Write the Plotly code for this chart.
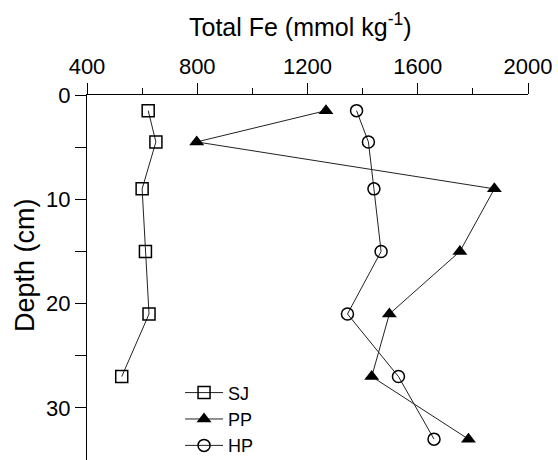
import plotly.graph_objects as go

# Total Fe profiles with depth at three sites
sj_depth = [1.5, 4.5, 9, 15, 21, 27]
sj_fe = [622, 650, 600, 612, 625, 526]

pp_depth = [1.5, 4.5, 9, 15, 21, 27, 33]
pp_fe = [1267, 798, 1878, 1753, 1497, 1433, 1784]

hp_depth = [1.5, 4.5, 9, 15, 21, 27, 33]
hp_fe = [1378, 1421, 1441, 1467, 1345, 1530, 1659]

x_ticks = [400, 800, 1200, 1600, 2000]
y_ticks = [0, 10, 20, 30]

FONT = "Liberation Sans, Arial, sans-serif"
LINE = dict(color="#222222", width=1)

fig = go.Figure()
fig.add_trace(go.Scatter(
    x=sj_fe, y=sj_depth, name="SJ", mode="lines+markers", line=LINE,
    marker=dict(symbol="square-open", size=12, color="black", line=dict(width=1.5)),
))
fig.add_trace(go.Scatter(
    x=pp_fe, y=pp_depth, name="PP", mode="lines+markers", line=LINE,
    marker=dict(symbol="triangle-up", size=13, color="black"),
))
fig.add_trace(go.Scatter(
    x=hp_fe, y=hp_depth, name="HP", mode="lines+markers", line=LINE,
    marker=dict(symbol="circle-open", size=12, color="black", line=dict(width=1.5)),
))

fig.update_layout(
    width=558, height=460,
    margin=dict(l=87, r=30, t=95, b=0, autoexpand=False),
    paper_bgcolor="white", plot_bgcolor="white",
    font=dict(family=FONT, color="black", size=22),
    showlegend=True,
    legend=dict(
        x=0.211, y=-0.012, xanchor="left", yanchor="bottom",
        font=dict(size=18), bgcolor="rgba(0,0,0,0)",
        tracegroupgap=0, itemwidth=38,
    ),
    xaxis=dict(
        side="top", range=[400, 2000], tickvals=x_ticks,
        ticks="outside", ticklen=11, tickwidth=1, tickcolor="black",
        showline=True, linecolor="black", linewidth=1,
        showgrid=False, zeroline=False, automargin=False,
        minor=dict(dtick=200, ticks="outside", ticklen=6, tickcolor="black", showgrid=False),
        tickfont=dict(size=22),
    ),
    yaxis=dict(
        range=[35.0, 0], tickvals=y_ticks,
        ticks="outside", ticklen=11, tickwidth=1, tickcolor="black",
        showline=True, linecolor="black", linewidth=1,
        showgrid=False, zeroline=False, automargin=False,
        minor=dict(dtick=5, ticks="outside", ticklen=11, tickcolor="black", showgrid=False),
        tickfont=dict(size=22),
    ),
    annotations=[
        dict(text="Total Fe (mmol kg<sup>-1</sup>)", xref="x", yref="paper",
             x=1173, y=1 + (95 - 25) / 365, xanchor="center", yanchor="middle",
             showarrow=False, font=dict(size=25)),
        dict(text="Depth (cm)", xref="paper", yref="y",
             x=(25 - 87) / 441, y=16.3, xanchor="center", yanchor="middle",
             textangle=-90, showarrow=False, font=dict(size=27)),
    ],
)

fig.write_html("out.html")
